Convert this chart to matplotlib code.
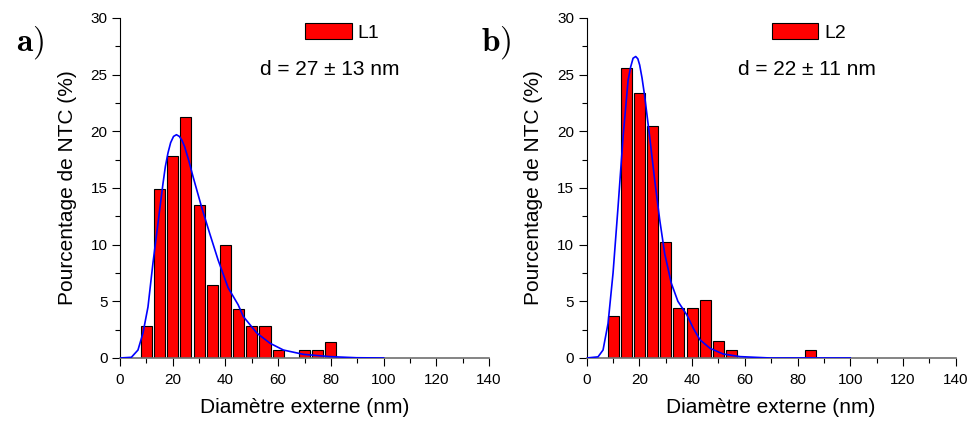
import matplotlib
matplotlib.use("Agg")
import matplotlib.pyplot as plt
from matplotlib.ticker import MultipleLocator

plt.rcParams['font.family'] = ['Liberation Sans', 'DejaVu Sans']
plt.rcParams['mathtext.fontset'] = 'cm'

# ===== données =====
bins_L1 = [10, 15, 20, 25, 30, 35, 40, 45, 50, 55, 60, 70, 75, 80]
pct_L1 = [2.85, 14.95, 17.8, 21.3, 13.5, 6.4, 9.95, 4.3, 2.85, 2.85, 0.7, 0.7, 0.7, 1.45]
fit_x_L1 = [0, 4.3, 6.8, 8.7, 10.6, 12.5, 14.4, 16.3, 17.2, 18.2, 19.2, 20.3, 21.4, 22.5,
            23.5, 24.5, 26.1, 27.7, 30.9, 34, 37.2, 41, 44.8, 46.8, 51.9, 56.9, 62,
            69.6, 79.7, 89.8, 100]
fit_y_L1 = [0, 0.06, 0.7, 2.2, 4.5, 8.4, 11.9, 15.4, 16.9, 18.1, 19.0, 19.55, 19.7, 19.55,
            19.2, 18.65, 17.4, 16.0, 13.35, 11.0, 8.65, 6.2, 4.7, 3.65, 2.2, 1.3, 0.7,
            0.32, 0.12, 0.02, 0]

bins_L2 = [10, 15, 20, 25, 30, 35, 40, 45, 50, 55, 85]
pct_L2 = [3.68, 25.6, 23.4, 20.5, 10.25, 4.38, 4.38, 5.15, 1.47, 0.74, 0.74]
fit_x_L2 = [0, 4.3, 6.2, 8.1, 10, 11.9, 13.8, 15.7, 16.7, 17.6, 18.6, 19.4, 20.1, 21,
            22, 23.9, 25.8, 27.7, 29.6, 32.1, 34.6, 38, 40.5, 43, 46.8, 51.8, 58.2,
            69.6, 100]
fit_y_L2 = [0, 0.1, 0.7, 3.05, 7.5, 13.35, 19.5, 24.5, 25.7, 26.45, 26.6, 26.4, 25.85, 24.7,
            23.1, 19.5, 15.7, 12.2, 9.2, 6.6, 5.0, 3.8, 2.6, 1.6, 0.85, 0.35, 0.12,
            0, 0]

panels = [
    ("a)", "L1", "d = 27 ± 13 nm", bins_L1, pct_L1, fit_x_L1, fit_y_L1, 0.1235, 0.569),
    ("b)", "L2", "d = 22 ± 11 nm", bins_L2, pct_L2, fit_x_L2, fit_y_L2, 0.6036, 0.596),
]

fig = plt.figure(figsize=(9.72, 4.28), dpi=100)

for tag, name, note, bx, by, fx, fy, left, note_x in panels:
    ax = fig.add_axes([left, 0.1636, 0.3796, 0.7944])
    ax.bar(bx, by, width=4.2, color='red', edgecolor='black', linewidth=0.8,
           label=name, zorder=2)
    ax.plot(fx, fy, color='#0000ff', linewidth=1.2, zorder=3)

    ax.set_xlim(0, 140)
    ax.set_ylim(0, 30)
    ax.xaxis.set_major_locator(MultipleLocator(20))
    ax.xaxis.set_minor_locator(MultipleLocator(10))
    ax.yaxis.set_major_locator(MultipleLocator(5))
    ax.yaxis.set_minor_locator(MultipleLocator(2.5))
    ax.tick_params(which='major', direction='out', length=6, width=0.8, labelsize=11)
    ax.tick_params(which='minor', direction='out', length=3.5, width=0.8)
    ax.tick_params(axis='x', pad=5)
    ax.tick_params(axis='y', pad=3)

    ax.spines['top'].set_visible(False)
    ax.spines['right'].set_visible(False)
    ax.spines['left'].set_linewidth(0.8)
    ax.spines['bottom'].set_color('#707070')
    ax.spines['bottom'].set_linewidth(1.2)

    ax.set_xlabel("Diamètre externe (nm)", fontsize=15, labelpad=8)
    ax.set_ylabel("Pourcentage de NTC (%)", fontsize=15, labelpad=10)

    ax.legend(loc='upper left', bbox_to_anchor=(0.496, 0.99), frameon=False,
              fontsize=14, handlelength=2.4, handleheight=0.9, handletextpad=0.3,
              borderpad=0.1, borderaxespad=0)
    ax.text(note_x, 0.847, note, transform=ax.transAxes, fontsize=15,
            ha='center', va='center')

    fig.text(left - 0.093, 0.9, r'$\mathbf{' + tag + '}$', fontsize=24,
             ha='center', va='center')

fig.savefig("out.png", dpi=100)
